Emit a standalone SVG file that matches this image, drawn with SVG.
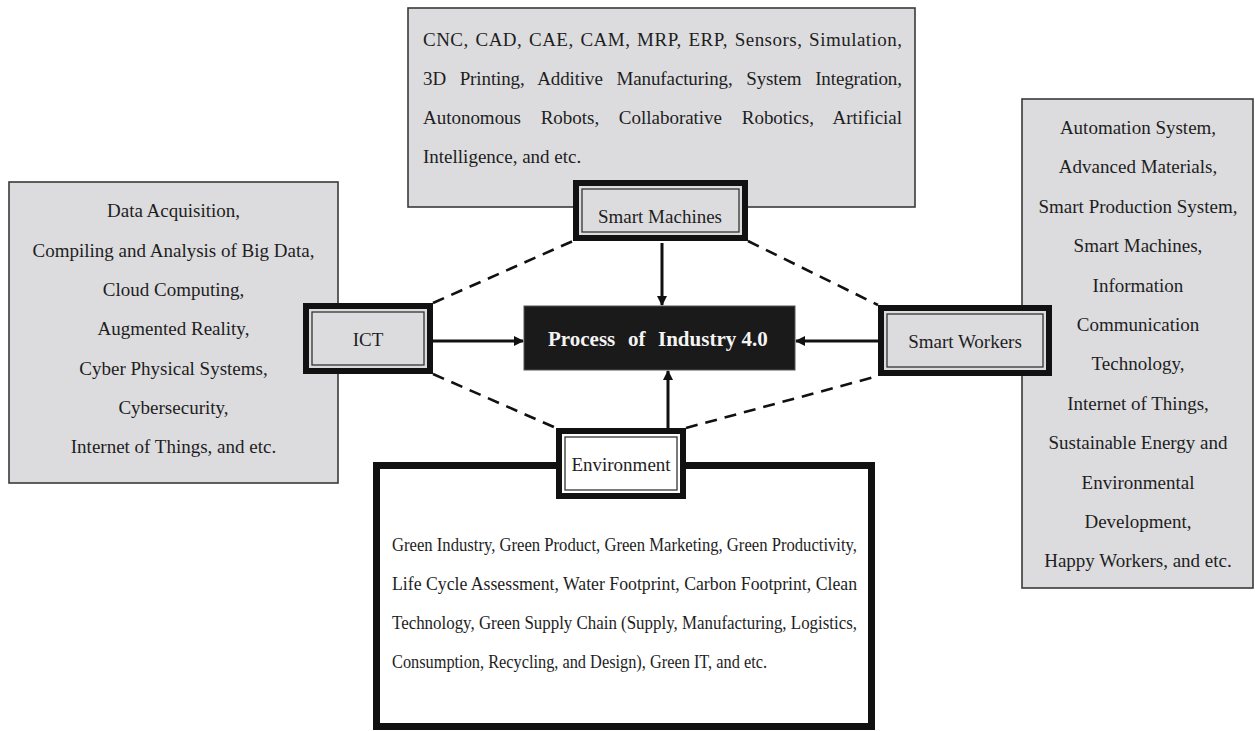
<svg xmlns="http://www.w3.org/2000/svg" width="1255" height="731" viewBox="0 0 1255 731">
<style>
.gbox{fill:#dcdcde;stroke:#3a3a3a;stroke-width:1.6}
.t{font-family:"Liberation Serif","Times New Roman",serif;font-size:19px;fill:#1e1e1e}
.c{text-anchor:middle}
.outer{stroke:#111;stroke-width:6}
.inner{fill:none;stroke:#333;stroke-width:1.3}
.dash{stroke:#111;stroke-width:2.6;stroke-dasharray:12 8;fill:none}
.arr{stroke:#111;stroke-width:3;fill:none;marker-end:url(#ah)}
</style>
<defs>
<marker id="ah" markerWidth="10" markerHeight="10" refX="9" refY="5" orient="auto" markerUnits="userSpaceOnUse" viewBox="0 0 10 10">
<path d="M0,0 L10,5 L0,10 z" fill="#111"/>
</marker>
</defs>
<rect width="1255" height="731" fill="#fff"/>

<g id="connectors">
<line class="dash" x1="433" y1="303" x2="573" y2="241"/>
<line class="dash" x1="748" y1="241" x2="878" y2="305"/>
<line class="dash" x1="433" y1="374" x2="556" y2="428"/>
<line class="dash" x1="686" y1="428" x2="878" y2="376"/>
</g>

<g id="machines-list">
<rect class="gbox" x="408" y="8" width="507" height="199"/>
<text class="t" x="423" y="46" word-spacing="1.5" textLength="479" lengthAdjust="spacing">CNC, CAD, CAE, CAM, MRP, ERP, Sensors, Simulation,</text>
<text class="t" x="423" y="85" word-spacing="9" textLength="479" lengthAdjust="spacing">3D Printing, Additive Manufacturing, System Integration,</text>
<text class="t" x="423" y="124" word-spacing="15" textLength="479" lengthAdjust="spacing">Autonomous Robots, Collaborative Robotics, Artificial</text>
<text class="t" x="423" y="163">Intelligence, and etc.</text>
</g>

<g id="ict-list">
<rect class="gbox" x="9" y="182" width="329" height="301"/>
<text class="t c" x="173.5" y="217">Data Acquisition,</text>
<text class="t c" x="173.5" y="256.5">Compiling and Analysis of Big Data,</text>
<text class="t c" x="173.5" y="296">Cloud Computing,</text>
<text class="t c" x="173.5" y="335">Augmented Reality,</text>
<text class="t c" x="173.5" y="374.5">Cyber Physical Systems,</text>
<text class="t c" x="173.5" y="414">Cybersecurity,</text>
<text class="t c" x="173.5" y="453">Internet of Things, and etc.</text>
</g>

<g id="workers-list">
<rect class="gbox" x="1022" y="99" width="231" height="489"/>
<text class="t c" x="1138" y="134">Automation System,</text>
<text class="t c" x="1138" y="173.4">Advanced Materials,</text>
<text class="t c" x="1138" y="212.8">Smart Production System,</text>
<text class="t c" x="1138" y="252.2">Smart Machines,</text>
<text class="t c" x="1138" y="291.6">Information</text>
<text class="t c" x="1138" y="331">Communication</text>
<text class="t c" x="1138" y="370.4">Technology,</text>
<text class="t c" x="1138" y="409.8">Internet of Things,</text>
<text class="t c" x="1138" y="449.2">Sustainable Energy and</text>
<text class="t c" x="1138" y="488.6">Environmental</text>
<text class="t c" x="1138" y="528">Development,</text>
<text class="t c" x="1138" y="567.4">Happy Workers, and etc.</text>
</g>

<g id="environment-list">
<rect x="376.5" y="465.5" width="495" height="261" fill="#fff" stroke="#111" stroke-width="7"/>
<text class="t" x="392" y="551" textLength="465" lengthAdjust="spacingAndGlyphs">Green Industry, Green Product, Green Marketing, Green Productivity,</text>
<text class="t" x="392" y="590" textLength="465" lengthAdjust="spacingAndGlyphs">Life Cycle Assessment, Water Footprint, Carbon Footprint, Clean</text>
<text class="t" x="392" y="629" textLength="465" lengthAdjust="spacingAndGlyphs">Technology, Green Supply Chain (Supply, Manufacturing, Logistics,</text>
<text class="t" x="392" y="668" textLength="375" lengthAdjust="spacingAndGlyphs">Consumption, Recycling, and Design), Green IT, and etc.</text>
</g>

<g id="connector-arrows">
<line class="arr" x1="662" y1="243" x2="662" y2="305"/>
<line class="arr" x1="668" y1="428" x2="668" y2="371"/>
<line class="arr" x1="433" y1="341" x2="523" y2="341"/>
<line class="arr" x1="878" y1="341" x2="796" y2="341"/>
</g>

<g id="process">
<rect x="524" y="306" width="271" height="64" fill="#1a1a1a" stroke="#555" stroke-width="1"/>
<text x="548" y="346" style="font-family:'Liberation Serif','Times New Roman',serif;font-size:21px;font-weight:bold;fill:#f4f4f4"><tspan x="548">Process</tspan><tspan x="628">of</tspan><tspan x="658">Industry 4.0</tspan></text>
</g>

<g id="smart-machines">
<rect class="outer" x="576" y="183" width="169" height="55" fill="#dcdcde"/>
<rect class="inner" x="582" y="189" width="157" height="43"/>
<text class="t c" x="660" y="223">Smart Machines</text>
</g>

<g id="ict">
<rect class="outer" x="306" y="306" width="124" height="65" fill="#dcdcde"/>
<rect class="inner" x="312" y="312" width="112" height="53"/>
<text class="t c" x="368" y="346">ICT</text>
</g>

<g id="smart-workers">
<rect class="outer" x="881" y="308" width="168" height="65" fill="#dcdcde"/>
<rect class="inner" x="887" y="314" width="156" height="53"/>
<text class="t c" x="965" y="348">Smart Workers</text>
</g>

<g id="environment">
<rect class="outer" x="559" y="431" width="124" height="65" fill="#fff"/>
<rect class="inner" x="565" y="437" width="112" height="53"/>
<text class="t c" x="621" y="471">Environment</text>
</g>
</svg>
